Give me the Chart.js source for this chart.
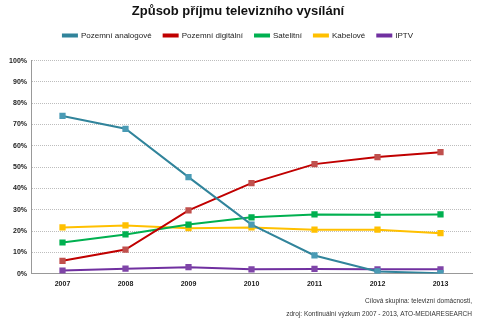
<!DOCTYPE html>
<html lang="cs">
<head>
  <meta charset="UTF-8">
  <title>Způsob příjmu televizního vysílání</title>
  <script src="https://cdn.jsdelivr.net/npm/chart.js"></script>
  <style>
    html, body { margin: 0; padding: 0; background: #fff; }
    #wrap { width: 500px; height: 326px; }
  </style>
</head>
<body>
<div id="wrap"><canvas id="tvChart" width="500" height="326"></canvas></div>

<script>
  // data (share of TV households, %)
  const years = ['2007', '2008', '2009', '2010', '2011', '2012', '2013'];
  const analog = [74, 68, 45.3, 23, 8.5, 1, 0.2];
  const digital = [6, 11.3, 29.7, 42.5, 51.4, 54.7, 57];
  const satellite = [14.6, 18.4, 23, 26.4, 27.8, 27.6, 27.8];
  const cable = [21.7, 22.6, 21.3, 21.7, 20.6, 20.6, 19];
  const iptv = [1.4, 2.3, 3, 2, 2.2, 2, 2];

  const FONT = 'Liberation Sans, Arial, sans-serif';

  function series(label, data, line, marker) {
    return {
      label: label,
      data: data,
      borderColor: line,
      backgroundColor: marker,
      pointBackgroundColor: marker,
      pointBorderColor: marker,
      pointStyle: 'rect',
      pointRadius: 3,
      borderWidth: 2,
      tension: 0,
      fill: false
    };
  }

  // give the legend some extra room underneath so the plot starts lower
  const legendSpace = {
    id: 'legendSpace',
    beforeLayout(chart) {
      const lg = chart.legend;
      if (lg && !lg._padded) {
        const fit = lg.fit;
        lg.fit = function () { fit.call(this); this.height += 11; };
        lg._padded = true;
      }
    }
  };

  const ctx = document.getElementById('tvChart').getContext('2d');
  new Chart(ctx, {
    type: 'line',
    data: {
      labels: years,
      datasets: [
        series('Pozemní analogové', analog, '#31849B', '#4A9BB5'),
        series('Pozemní digitální', digital, '#C00000', '#C0504D'),
        series('Satelitní', satellite, '#00B050', '#00B050'),
        series('Kabelové', cable, '#FFC000', '#FFC000'),
        series('IPTV', iptv, '#7030A0', '#7F45A8')
      ]
    },
    options: {
      responsive: false,
      animation: false,
      layout: { padding: { left: 4, right: 28, top: 2, bottom: 5 } },
      plugins: {
        title: {
          display: true,
          text: 'Způsob příjmu televizního vysílání',
          color: '#111',
          font: { family: FONT, size: 13, weight: 'bold' },
          padding: { top: 2, bottom: 0 }
        },
        legend: {
          position: 'top',
          labels: {
            color: '#222',
            font: { family: FONT, size: 8 },
            boxWidth: 14,
            boxHeight: 2,
            padding: 12
          }
        },
        subtitle: {
          display: true,
          position: 'bottom',
          align: 'end',
          text: ['Cílová skupina: televizní domácnosti,', 'zdroj: Kontinuální výzkum 2007 - 2013, ATO-MEDIARESEARCH'],
          color: '#333',
          font: { family: FONT, size: 6.5, lineHeight: 2 },
          padding: { top: 1, bottom: 0 }
        },
        tooltip: { enabled: false }
      },
      scales: {
        x: {
          offset: true,
          grid: { display: false, drawTicks: false },
          border: { color: '#999', width: 1 },
          ticks: { color: '#222', font: { family: FONT, size: 7, weight: 'bold' }, padding: 6 }
        },
        y: {
          min: 0,
          max: 100,
          ticks: {
            stepSize: 10,
            color: '#222',
            font: { family: FONT, size: 7, weight: 'bold' },
            padding: 4,
            callback: v => v + '%'
          },
          grid: { color: '#bdbdbd', drawTicks: false },
          border: { color: '#999', width: 1, dash: [1, 1] },
          afterFit: s => { s.width = 27; }
        }
      }
    },
    plugins: [legendSpace]
  });
</script>
</body>
</html>
